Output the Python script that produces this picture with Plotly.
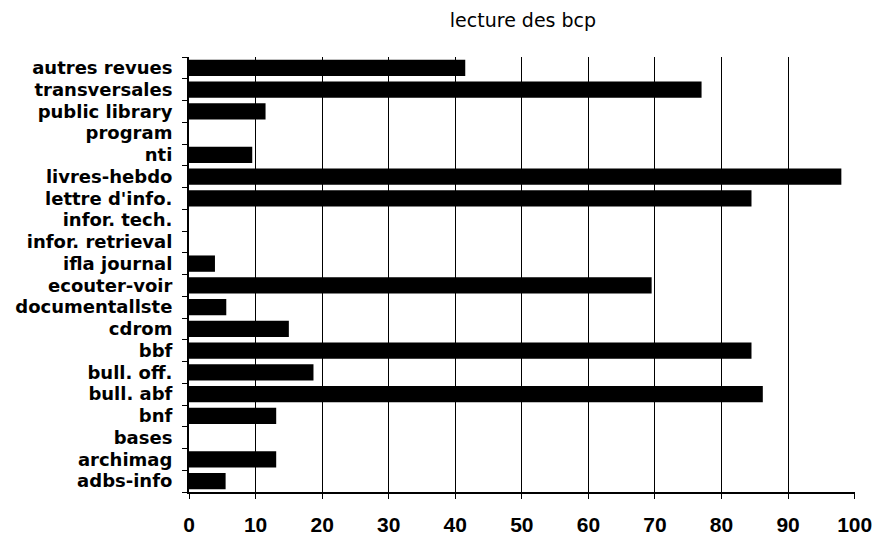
import plotly.graph_objects as go

categories = ["autres revues", "transversales", "public library", "program", "nti",
              "livres-hebdo", "lettre d'info.", "infor. tech.", "infor. retrieval",
              "ifla journal", "ecouter-voir", "documentallste", "cdrom", "bbf",
              "bull. off.", "bull. abf", "bnf", "bases", "archimag", "adbs-info"]
values = [41.5, 77, 11.5, 0, 9.5, 98, 84.5, 0, 0, 3.9, 69.5, 5.6, 15, 84.5,
          18.7, 86.2, 13.1, 0, 13.1, 5.5]
x_ticks = [0, 10, 20, 30, 40, 50, 60, 70, 80, 90, 100]

fig = go.Figure(go.Bar(
    y=categories, x=values, orientation="h",
    marker=dict(color="black", line=dict(width=0)),
))

fig.update_layout(
    width=877, height=550,
    paper_bgcolor="white", plot_bgcolor="white",
    margin=dict(l=189, r=22, t=57, b=58, autoexpand=False),
    bargap=0.25,
    showlegend=False,
    font=dict(family="DejaVu Sans", color="black"),
    title=dict(text="lecture des bcp", x=523/877, xanchor="center",
               y=1-20/550, yanchor="middle", yref="container",
               font=dict(size=19, family="DejaVu Sans", color="black")),
)
fig.update_xaxes(
    range=[0, 100.05], tickvals=x_ticks, ticktext=[str(v) for v in x_ticks],
    showgrid=True, gridcolor="black", gridwidth=1.3,
    showline=True, linecolor="black", linewidth=2,
    ticks="outside", ticklen=5, tickcolor="black", tickwidth=1.3,
    ticklabelstandoff=8, ticklabeloverflow="allow", automargin=False,
    tickfont=dict(size=21, family="Liberation Sans", color="black", weight="bold"),
    zeroline=False,
)
fig.update_yaxes(
    categoryorder="array", categoryarray=categories, autorange="reversed",
    tickmode="array", tickvals=categories, ticktext=categories,
    showline=True, linecolor="black", linewidth=2,
    ticks="outside", ticklen=5, tickcolor="black", tickwidth=1.3,
    tickson="boundaries",
    ticklabelstandoff=11, automargin=False,
    tickfont=dict(size=18, family="DejaVu Sans", color="black", weight="bold"),
    showgrid=False,
)

fig.write_html("out.html", config={"displayModeBar": False},
               post_script="document.body.style.margin='0px';")
